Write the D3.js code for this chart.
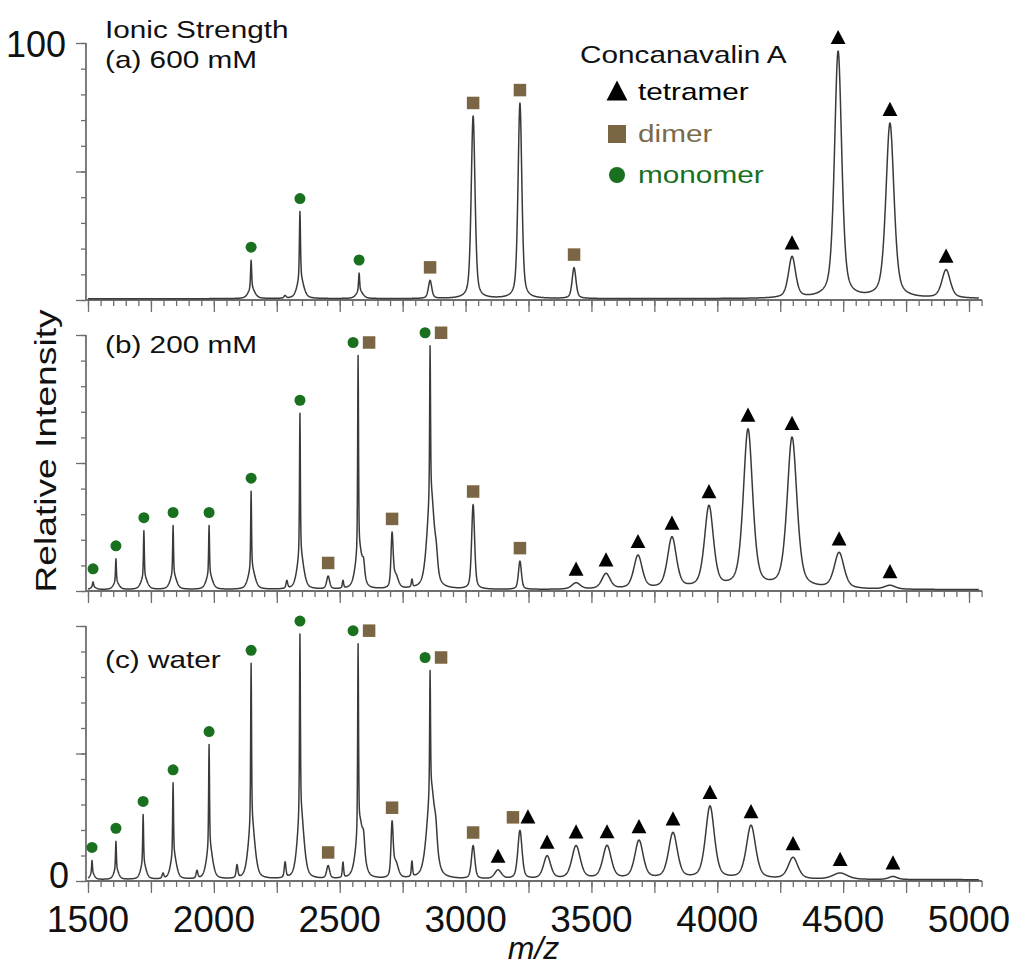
<!DOCTYPE html>
<html><head><meta charset="utf-8">
<script src="https://cdn.jsdelivr.net/npm/d3@7"></script>
<style>body{margin:0;background:#fff}svg{display:block}</style>
</head><body>
<svg id="chart" width="1015" height="965"></svg>
<script>
// ---------------- data ----------------
const xTickLabels = [1500, 2000, 2500, 3000, 3500, 4000, 4500, 5000];
const yTickLabels = ["100", "0"];
const panelLabels = ["(a) 600 mM", "(b) 200 mM", "(c) water"];
const legendTitle = "Concanavalin A";
const speciesNames = ["tetramer", "dimer", "monomer"];

// peaks: [m/z, relative height, FWHM (m/z), assignment]
// assignment: M monomer, D dimer, T tetramer, MD / DT overlapping, "" unassigned component
const peaks600 = [
  [2148, 11, 5, "M"], [2150, 4, 30, ""],
  [2283, 1, 10, ""],
  [2342, 26, 5, "M"], [2344, 8, 30, ""],
  [2577, 7, 5, "M"], [2579, 3, 30, ""],
  [2859, 7, 16, "D"],
  [3030, 71, 18, "D"],
  [3216, 76, 18, "D"],
  [3431, 12, 18, "D"],
  [4297, 16, 34, "T"],
  [4480, 96, 34, "T"],
  [4686, 68, 38, "T"],
  [4909, 11, 40, "T"]
];
const peaks200 = [
  [1520, 2, 5, "M"], [1521, 1, 25, ""],
  [1611, 9, 4, "M"], [1612, 3, 25, ""],
  [1722, 18, 4, "M"], [1723, 5, 28, ""],
  [1838, 19, 4, "M"], [1839, 6, 28, ""],
  [1981, 19, 4, "M"], [1982, 6, 28, ""],
  [2148, 30, 4, "M"], [2150, 8.5, 30, ""],
  [2290, 3, 8, ""],
  [2342, 55, 4, "M"], [2344, 14, 30, ""],
  [2454, 5, 14, "D"],
  [2513, 3, 6, ""],
  [2573, 76, 4, "MD"], [2577, 16, 32, ""], [2595, 5, 10, ""],
  [2708, 20, 10, "D"], [2722, 5, 25, ""],
  [2787, 3, 6, ""],
  [2859, 58, 4, "MD"], [2862, 38, 34, ""], [2884, 5, 12, ""],
  [3030, 33, 14, "D"],
  [3216, 11, 14, "D"],
  [3439, 2.5, 40, "T"],
  [3558, 6, 40, "T"],
  [3685, 13, 40, "T"],
  [3820, 20, 42, "T"],
  [3967, 32, 42, "T"],
  [4122, 62, 44, "T"],
  [4297, 59, 46, "T"],
  [4484, 14, 46, "T"],
  [4686, 1.5, 50, "T"]
];
const peaksWater = [
  [1516, 5, 4, "M"], [1517, 2.5, 20, ""],
  [1611, 11, 4, "M"], [1612, 4, 22, ""],
  [1719, 19, 4, "M"], [1720, 6.5, 24, ""],
  [1798, 2, 8, ""],
  [1838, 28, 4, "M"], [1840, 10, 26, ""],
  [1933, 3, 8, ""],
  [1981, 40, 4, "M"], [1983, 13, 28, ""],
  [2092, 5, 8, ""],
  [2148, 62, 4, "M"], [2150, 23, 30, ""],
  [2283, 6, 8, ""],
  [2342, 70, 4, "M"], [2345, 27, 30, ""],
  [2454, 5, 14, "D"],
  [2513, 6, 6, ""],
  [2573, 73, 4, "MD"], [2580, 22, 34, ""], [2595, 6, 10, ""],
  [2708, 20, 10, "D"], [2722, 6, 25, ""],
  [2787, 6, 6, ""],
  [2859, 47, 4, "MD"], [2863, 36, 38, ""], [2882, 6, 12, ""],
  [3030, 13, 16, "D"],
  [3129, 3.5, 32, "T"],
  [3216, 19, 20, "DT"],
  [3324, 9, 34, "T"],
  [3439, 13, 40, "T"],
  [3562, 13, 40, "T"],
  [3689, 15, 40, "T"],
  [3824, 18, 42, "T"],
  [3971, 28.5, 42, "T"],
  [4134, 21, 44, "T"],
  [4301, 8.5, 46, "T"],
  [4488, 2.5, 70, "T"],
  [4698, 1.2, 40, "T"]
];

// ---------------- drawing ----------------
const svg = d3.select("#chart");
const FONT = "'Liberation Sans', Arial, Helvetica, sans-serif";
const GREEN = "#19701f", BROWN = "#7a6644", BLACK = "#000";
const AXIS = "#6e6e6e";

const x = d3.scaleLinear().domain([1500, 5000]).range([88, 969]);

const panels = [
  {peaks: peaks600, top: 43, base: 300, labelY: 68},
  {peaks: peaks200, top: 335, base: 591, labelY: 353},
  {peaks: peaksWater, top: 626, base: 881, labelY: 668}
];

function stretchText(g, px, py, str, size, fill, sx, anchor, rotate) {
  return g.append("text")
    .attr("transform", `translate(${px},${py})` + (rotate ? ` rotate(${rotate})` : "") + ` scale(${sx},1)`)
    .attr("font-family", FONT).attr("font-size", size).attr("fill", fill)
    .attr("text-anchor", anchor || "start").text(str);
}

function profile(peaks, m) {
  let s = 0.5;
  for (const [c, h, w] of peaks) {
    const d = 2 * (m - c) / w;
    s += h * (0.5 / (1 + d * d) + 0.5 * Math.exp(-Math.LN2 * d * d));
  }
  return s;
}

const triPath = (s) => `M0,${-s*0.6}L${s*0.55},${s*0.45}L${-s*0.55},${s*0.45}Z`;

function drawMarker(g, kind, cx, cy, big) {
  if (kind === "M") {
    g.append("circle").attr("cx", cx).attr("cy", cy).attr("r", big ? 8 : 5.5).attr("fill", GREEN);
  } else if (kind === "D") {
    const s = big ? 18 : 12.5;
    g.append("rect").attr("x", cx - s/2).attr("y", cy - s/2).attr("width", s).attr("height", s)
      .attr("fill", BROWN);
  } else if (kind === "T") {
    g.append("path").attr("transform", `translate(${cx},${cy})`).attr("d", triPath(big ? 19 : 13.5)).attr("fill", BLACK);
  }
}

const grid = d3.range(1500, 5040, 1);

panels.forEach((p, i) => {
  const y = d3.scaleLinear().domain([0, 100]).range([p.base, p.top]);
  const g = svg.append("g");

  // x axis: minor (50) and major (250) ticks
  const xMinor = d3.axisBottom(x).tickValues(d3.range(1500, 5051, 50)).tickSize(6).tickFormat("");
  const xMajor = d3.axisBottom(x).tickValues(d3.range(1500, 5001, 250)).tickSize(12).tickFormat("");
  [xMinor, xMajor].forEach(ax => {
    const a = g.append("g").attr("transform", `translate(0,${p.base})`).call(ax);
    a.select(".domain").remove();
    a.selectAll("line").attr("stroke", AXIS).attr("stroke-width", 1.3);
  });
  g.append("line").attr("x1", x(1492)).attr("x2", x(5052)).attr("y1", p.base).attr("y2", p.base)
    .attr("stroke", AXIS).attr("stroke-width", 1.8);

  // y axis
  const yMinor = d3.axisLeft(y).tickValues(d3.range(0, 101, 10)).tickSize(5).tickFormat("");
  const yMajor = d3.axisLeft(y).tickValues([0, 50, 100]).tickSize(10).tickFormat("");
  [yMinor, yMajor].forEach(ax => {
    const a = g.append("g").attr("transform", `translate(${x(1492)},0)`).call(ax);
    a.select(".domain").remove();
    a.selectAll("line").attr("stroke", AXIS).attr("stroke-width", 1.3);
  });
  g.append("line").attr("x1", x(1492)).attr("x2", x(1492)).attr("y1", y(0)).attr("y2", y(100))
    .attr("stroke", AXIS).attr("stroke-width", 1.8);

  // spectrum
  const pts = grid.map(m => [m, profile(p.peaks, m)]);
  g.append("path").datum(pts)
    .attr("d", d3.line().x(d => x(d[0])).y(d => y(d[1])))
    .attr("fill", "none").attr("stroke", "#3a3a3a").attr("stroke-width", 1.5).attr("stroke-linejoin", "round");

  // markers
  p.peaks.filter(d => d[3]).forEach(([c, h, w, kind]) => {
    let v = 0;
    for (let m = c - 12; m <= c + 12; m++) v = Math.max(v, profile(p.peaks, m));
    const cx = x(c), cy = y(v) - 13;
    if (kind === "MD") {
      drawMarker(g, "M", cx - 5, cy);
      drawMarker(g, "D", cx + 11, cy);
    } else if (kind === "DT") {
      drawMarker(g, "D", cx - 7, cy);
      drawMarker(g, "T", cx + 8, cy);
    } else {
      drawMarker(g, kind, cx, cy);
    }
  });

  // panel label
  stretchText(g, 105, p.labelY, panelLabels[i], 24, "#111", 1.24);

  if (i === 0) {
    stretchText(g, 105, 38, "Ionic Strength", 24, "#111", 1.24);
    g.append("text").attr("x", 66).attr("y", y(100) + 14).attr("text-anchor", "end")
      .attr("font-family", FONT).attr("font-size", 36).attr("fill", "#111").text(yTickLabels[0]);
  }
  if (i === 2) {
    g.append("text").attr("x", 69).attr("y", y(0) + 7).attr("text-anchor", "end")
      .attr("font-family", FONT).attr("font-size", 36).attr("fill", "#111").text(yTickLabels[1]);
    g.selectAll(".xl").data(xTickLabels).enter().append("text")
      .attr("x", d => x(d)).attr("y", 932).attr("text-anchor", "middle")
      .attr("font-family", FONT).attr("font-size", 37).attr("fill", "#111").text(d => d);
    g.append("text").attr("x", x(3270)).attr("y", 959).attr("text-anchor", "middle")
      .attr("font-family", FONT).attr("font-size", 32).attr("font-style", "italic").attr("fill", "#111")
      .text("m/z");
  }
});

// y-axis title
stretchText(svg, 56, 451, "Relative Intensity", 30, "#111", 1.24, "middle", -90);

// legend
const lg = svg.append("g");
stretchText(lg, 580, 63, legendTitle, 24, "#111", 1.24);
const legendColors = [BLACK, "#7a6a4a", GREEN];
const legendKinds = ["T", "D", "M"];
const legendYs = [100, 142, 183];
speciesNames.forEach((n, k) => {
  drawMarker(lg, legendKinds[k], 617, legendYs[k] - 8, true);
  stretchText(lg, 638, legendYs[k], n, 24, legendColors[k], 1.24);
});
</script>
</body></html>
